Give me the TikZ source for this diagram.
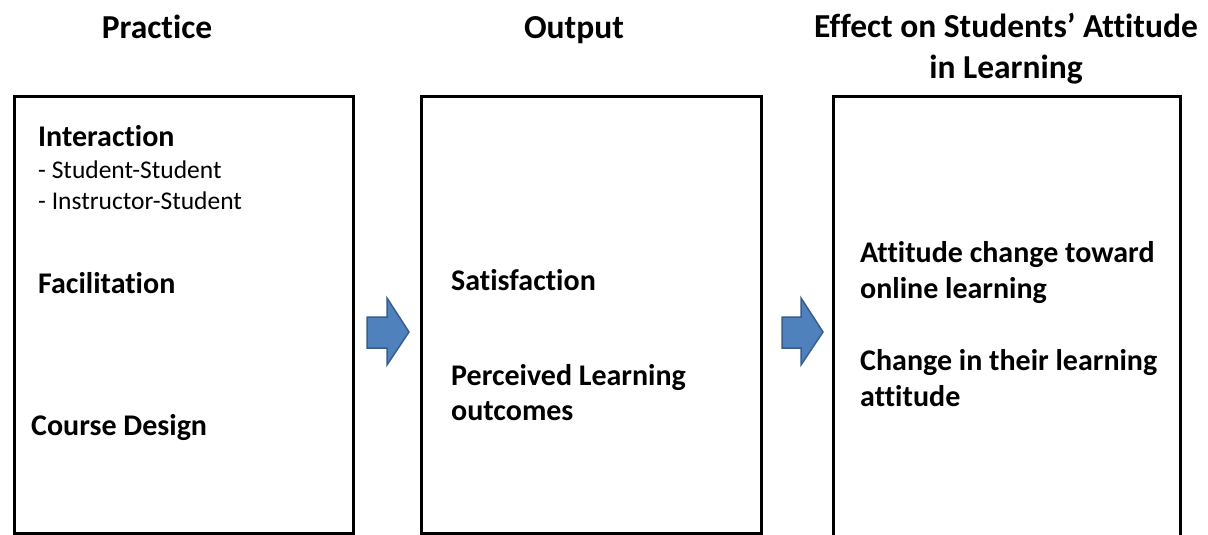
\documentclass[tikz,border=0pt]{standalone}
\usepackage{fontspec}
\setmainfont{Carlito}[Ligatures={NoCommon,NoContextual}]
\begin{document}
\begin{tikzpicture}[x=1pt,y=-1pt,
  frame/.style={draw=black,line width=3pt,anchor=north west,inner sep=0pt},
  heading/.style={anchor=base,inner sep=0pt,font=\fontsize{33.5}{40}\selectfont\bfseries},
  item/.style={anchor=base west,inner sep=0pt,font=\fontsize{30}{36}\selectfont\bfseries},
  subitem/.style={anchor=base west,inner sep=0pt,font=\fontsize{25.5}{31}\selectfont},
  blockarrow/.style={fill=arrowfill,draw=arrowline,line width=1.5pt,line join=miter}]
\definecolor{arrowfill}{HTML}{4F81BD}
\definecolor{arrowline}{HTML}{385D8A}
\useasboundingbox (0,0) rectangle (1208,535);

% three columns
\node[frame,minimum width=339pt,minimum height=437pt] (practice) at (13,95) {};
\node[frame,minimum width=340pt,minimum height=437pt] (output) at (420,95) {};
\node[frame,minimum width=347pt,minimum height=460pt] (effect) at (832,95) {};

% headings
\node[heading] (hpractice) at (157,39) {Practice};
\node[heading] (houtput) at (574,39) {Output};
\node[heading] (heffect) at (1006,38) {Effect on Students’ Attitude};
\node[heading] (heffectb) at (1006,78) {in Learning};

% practice column
\node[item] (interaction) at (38,146) {Interaction};
\node[subitem] (ss) at (38,178) {- Student-Student};
\node[subitem] (is) at (38,209) {- Instructor-Student};
\node[item] (facilitation) at (38,293) {Facilitation};
\node[item] (design) at (31,435) {Course Design};

% output column
\node[item] (satisfaction) at (451,290) {Satisfaction};
\node[item] (perceived) at (451,385) {Perceived Learning};
\node[item] (perceivedb) at (451,420) {outcomes};

% effect column
\node[item] (attitude) at (860,262) {Attitude change toward};
\node[item] (attitudeb) at (860,298) {online learning};
\node[item] (change) at (860,370) {Change in their learning};
\node[item] (changeb) at (860,406) {attitude};

% block arrows between the columns
\draw[blockarrow] (367,317) -- (387,317) -- (387,298) -- (409,332) -- (387,365) -- (387,348) -- (367,348) -- cycle;
\draw[blockarrow] (782,317) -- (801,317) -- (801,298) -- (823,332) -- (801,365) -- (801,348) -- (782,348) -- cycle;
\end{tikzpicture}
\end{document}
